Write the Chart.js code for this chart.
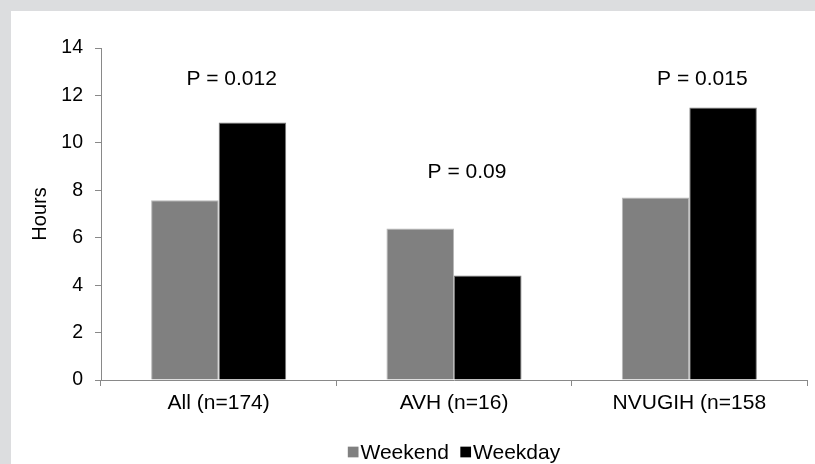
<!DOCTYPE html>
<html><head><meta charset="utf-8">
<script src="https://cdn.jsdelivr.net/npm/chart.js@4"></script>
<style>
html,body{margin:0;padding:0;background:#dcdddf;width:815px;height:464px;overflow:hidden}
#wrap{position:absolute;left:11px;top:11px;width:804px;height:453px;background:#fff}
canvas{display:block}
</style></head><body><div id="wrap"><canvas id="c" width="804" height="453"></canvas></div>
<script>
const categories = ['All (n=174)', 'AVH (n=16)', 'NVUGIH (n=158'];
const weekend = [7.58, 6.39, 7.70];
const weekday = [10.86, 4.41, 11.49];
const pTexts = ['P = 0.012', 'P = 0.09', 'P = 0.015'];
const pTextHours = [12.7, 8.77, 12.7];
const yTicks = [0, 2, 4, 6, 8, 10, 12, 14];
const seriesNames = ['Weekend', 'Weekday'];

const FONT = "'Liberation Sans', Arial, sans-serif";
const AXIS_GRAY = '#898989';

const pLabelPlugin = {
  id: 'pLabels',
  afterDatasetsDraw(chart) {
    const ctx = chart.ctx, x = chart.scales.x, y = chart.scales.y;
    ctx.save();
    ctx.font = '21px ' + FONT;
    ctx.fillStyle = '#000';
    ctx.textAlign = 'center';
    ctx.textBaseline = 'middle';
    pTexts.forEach((t, i) => {
      ctx.fillText(t, x.getPixelForValue(i) + 13, y.getPixelForValue(pTextHours[i]));
    });
    ctx.restore();
  },
  afterDraw(chart) {
    const ctx = chart.ctx, area = chart.chartArea;
    ctx.save();
    ctx.font = '21px ' + FONT;
    ctx.textBaseline = 'middle';
    ctx.textAlign = 'left';
    const box = 10.7, gapText = 2, gapItem = 11.5;
    const ds = chart.data.datasets;
    const widths = ds.map(d => ctx.measureText(d.label).width);
    let total = 0;
    widths.forEach((w, i) => { total += box + gapText + w + (i < widths.length - 1 ? gapItem : 0); });
    let xPos = (area.left + area.right) / 2 - total / 2;
    const yc = 441;
    ds.forEach((d, i) => {
      ctx.fillStyle = d.backgroundColor;
      ctx.fillRect(xPos, yc - box / 2, box, box);
      xPos += box + gapText;
      ctx.fillStyle = '#000';
      ctx.fillText(d.label, xPos, yc + 1);
      xPos += widths[i] + gapItem;
    });
    ctx.restore();
  }
};

new Chart(document.getElementById('c'), {
  type: 'bar',
  data: {
    labels: categories,
    datasets: [
      { label: seriesNames[0], data: weekend, backgroundColor: '#808080', borderColor: '#b8b8b8', borderWidth: 1 },
      { label: seriesNames[1], data: weekday, backgroundColor: '#000000', borderColor: '#7a7a7a', borderWidth: 1 }
    ]
  },
  options: {
    responsive: false,
    animation: false,
    devicePixelRatio: 1,
    categoryPercentage: 0.574,
    barPercentage: 1,
    layout: { padding: { top: 37, right: 8, left: 0, bottom: 0 } },
    plugins: { legend: { display: false }, tooltip: { enabled: false } },
    scales: {
      x: {
        grid: { drawOnChartArea: false, drawTicks: true, tickLength: 6, color: AXIS_GRAY, offset: true },
        border: { color: AXIS_GRAY, width: 1 },
        ticks: { color: '#000', font: { family: FONT, size: 21 }, padding: 5, maxRotation: 0, autoSkip: false },
        afterFit(s) { s.height = 84; }
      },
      y: {
        min: 0, max: 14,
        afterBuildTicks(s) { s.ticks = yTicks.map(v => ({ value: v })); },
        grid: { drawOnChartArea: false, drawTicks: true, tickLength: 6, color: AXIS_GRAY },
        border: { color: AXIS_GRAY, width: 1 },
        ticks: { color: '#000', font: { family: FONT, size: 19.5 }, padding: 12 },
        title: { display: true, text: 'Hours', color: '#000', font: { family: FONT, size: 20 }, padding: { top: 17, bottom: 0 } },
        afterFit(s) { s.width = 90; }
      }
    }
  },
  plugins: [pLabelPlugin]
});
</script>
</body></html>
